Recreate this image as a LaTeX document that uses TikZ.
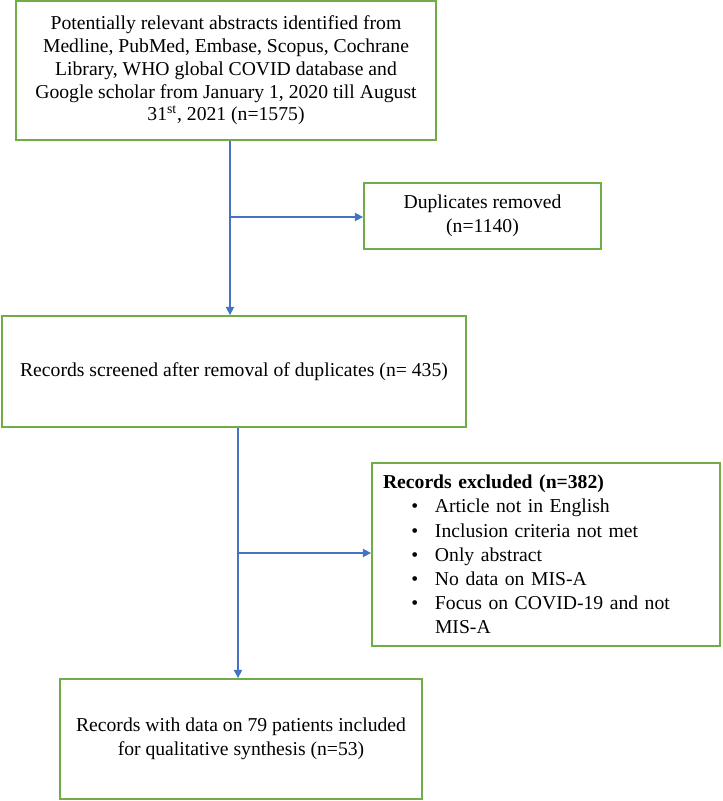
\documentclass[tikz,border=0pt]{standalone}
\usepackage{fontspec}
\setmainfont{Liberation Serif}
\usetikzlibrary{arrows.meta}
\definecolor{boxgreen}{HTML}{70AD47}
\definecolor{arrowblue}{HTML}{4472C4}
\begin{document}
\begin{tikzpicture}[x=0.6pt,y=-0.6pt,
  box/.style={draw=boxgreen, line width=1.1pt, inner sep=0pt, fill=white,
    font=\fontsize{11.8}{14.4}\selectfont},
  arr/.style={draw=arrowblue, line width=0.9pt, -{Triangle[length=5pt,width=5pt]}},
  link/.style={draw=arrowblue, line width=0.9pt}]
\useasboundingbox (0,0) rectangle (722,801);

\node[box, minimum width=252pt, minimum height=83.4pt, align=center,
  font=\fontsize{11.8}{13.65}\selectfont] (b1) at (226,70.5)
  {Potentially relevant abstracts identified from\\
   Medline, PubMed, Embase, Scopus, Cochrane\\
   Library, WHO global COVID database and\\
   Google scholar from January 1, 2020 till August\\
   31\textsuperscript{st}, 2021 (n=1575)};

\node[box, minimum width=142.2pt, minimum height=39.6pt, align=center] (b2) at (482.5,216)
  {Duplicates removed\\(n=1140)};

\node[box, minimum width=278.4pt, minimum height=66.6pt, align=center] (b3) at (234,371.5)
  {Records screened after removal of duplicates (n= 435)};

\node[box, minimum width=208.8pt, minimum height=109.8pt, text width=195.6pt, align=left,
  font=\fontsize{11.8}{14.5}\selectfont] (b4) at (546,554.5)
  {\textbf{Records excluded (n=382)}\\
   \hspace*{17pt}\makebox[14.2pt][l]{\textbullet}Article not in English\\
   \hspace*{17pt}\makebox[14.2pt][l]{\textbullet}Inclusion criteria not met\\
   \hspace*{17pt}\makebox[14.2pt][l]{\textbullet}Only abstract\\
   \hspace*{17pt}\makebox[14.2pt][l]{\textbullet}No data on MIS-A\\
   \hspace*{17pt}\makebox[14.2pt][l]{\textbullet}Focus on COVID-19 and not\\
   \hspace*{31.2pt}MIS-A};

\node[box, minimum width=217.2pt, minimum height=72pt, align=center] (b5) at (241,739)
  {Records with data on 79 patients included\\
   for qualitative synthesis (n=53)};

\coordinate (x1) at (230,0);
\coordinate (x2) at (238,0);
\coordinate (j1) at (230,217);
\coordinate (j2) at (238,553);

\draw[arr] (b1.south -| x1) -- (b3.north -| x1);
\draw[arr] (j1) -- (j1 -| b2.west);
\draw[arr] (b3.south -| x2) -- (b5.north -| x2);
\draw[arr] (j2) -- (j2 -| b4.west);
\end{tikzpicture}
\end{document}
